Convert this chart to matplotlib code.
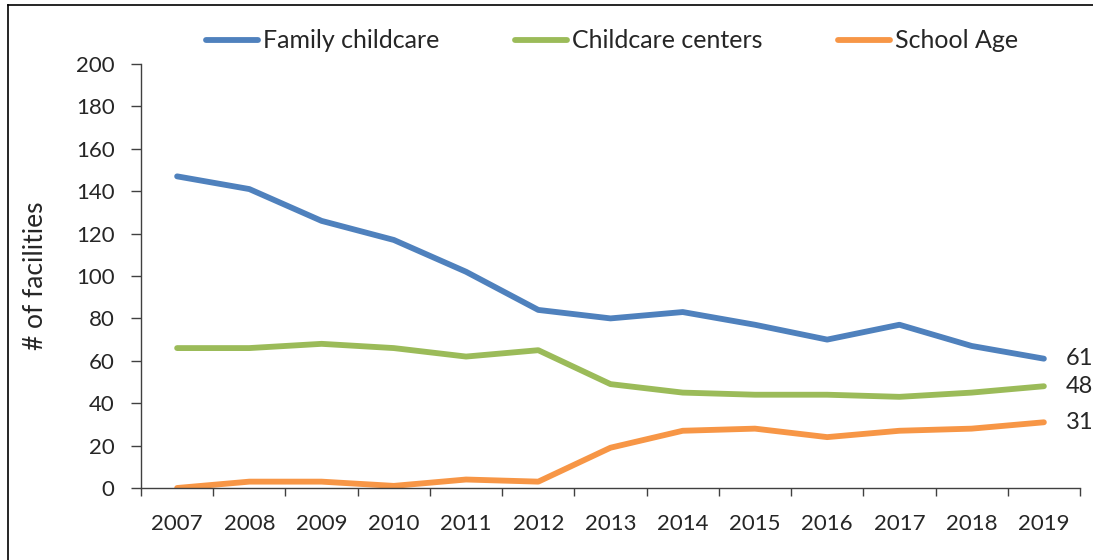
import matplotlib
matplotlib.use("Agg")
import matplotlib.pyplot as plt
from matplotlib.lines import Line2D

years = ["2007", "2008", "2009", "2010", "2011", "2012", "2013",
         "2014", "2015", "2016", "2017", "2018", "2019"]
family = [147, 141, 126, 117, 102, 84, 80, 83, 77, 70, 77, 67, 61]
centers = [66, 66, 68, 66, 62, 65, 49, 45, 44, 44, 43, 45, 48]
school = [0, 3, 3, 1, 4, 3, 19, 27, 28, 24, 27, 28, 31]
series_names = ["Family childcare", "Childcare centers", "School Age"]
colors = ["#4F81BD", "#9BBB59", "#F79646"]

plt.rcParams['font.family'] = ['Lato', 'DejaVu Sans']
W, H = 1093, 560
fig = plt.figure(figsize=(W / 100, H / 100), dpi=100)
ax = fig.add_axes([141 / W, 1 - 488 / H, (1080 - 141) / W, (488 - 64) / H])

x = list(range(len(years)))
for vals, name, c in zip([family, centers, school], series_names, colors):
    ax.plot(x, vals, color=c, lw=4.2, label=name, solid_capstyle='round',
            solid_joinstyle='round')
    ax.text(len(years) - 1 + 0.3, vals[-1], str(vals[-1]), va='center', ha='left',
            fontsize=17, color='#262626')

ax.set_xlim(-0.5, len(years) - 0.5)
ax.set_ylim(0, 200)
ax.set_yticks(range(0, 201, 20))
ax.set_xticks([i - 0.5 for i in range(len(years) + 1)], minor=False)
ax.set_xticklabels([])
ax.set_xticks(x, minor=True)
ax.set_xticklabels(years, minor=True)
ax.tick_params(axis='x', which='major', direction='out', length=6, width=1, color='#404040')
ax.tick_params(axis='x', which='minor', length=0, pad=19, labelsize=16, labelcolor='#262626')
ax.tick_params(axis='y', direction='out', length=7, width=1, color='#404040',
               labelsize=16, labelcolor='#262626', pad=12)
for s in ['top', 'right']:
    ax.spines[s].set_visible(False)
for s in ['left', 'bottom']:
    ax.spines[s].set_color('#404040')
    ax.spines[s].set_linewidth(1)
ax.set_ylabel("# of facilities", fontsize=19, color='#262626', labelpad=20)

leg = fig.legend(loc='center', bbox_to_anchor=(612 / W, 1 - 41 / H), ncol=3, frameon=False,
                 fontsize=18, handlelength=2.1, columnspacing=3.0, handletextpad=0.2)
for t in leg.get_texts():
    t.set_color('#262626')

# frame around figure (left and top edges)
fig.add_artist(Line2D([7.5 / W, 7.5 / W], [0, 1 - 5 / H], color='black', lw=1.2,
                      transform=fig.transFigure))
fig.add_artist(Line2D([7.5 / W, 1], [1 - 5 / H, 1 - 5 / H], color='black', lw=1.2,
                      transform=fig.transFigure))

fig.savefig("out.png", dpi=100)
